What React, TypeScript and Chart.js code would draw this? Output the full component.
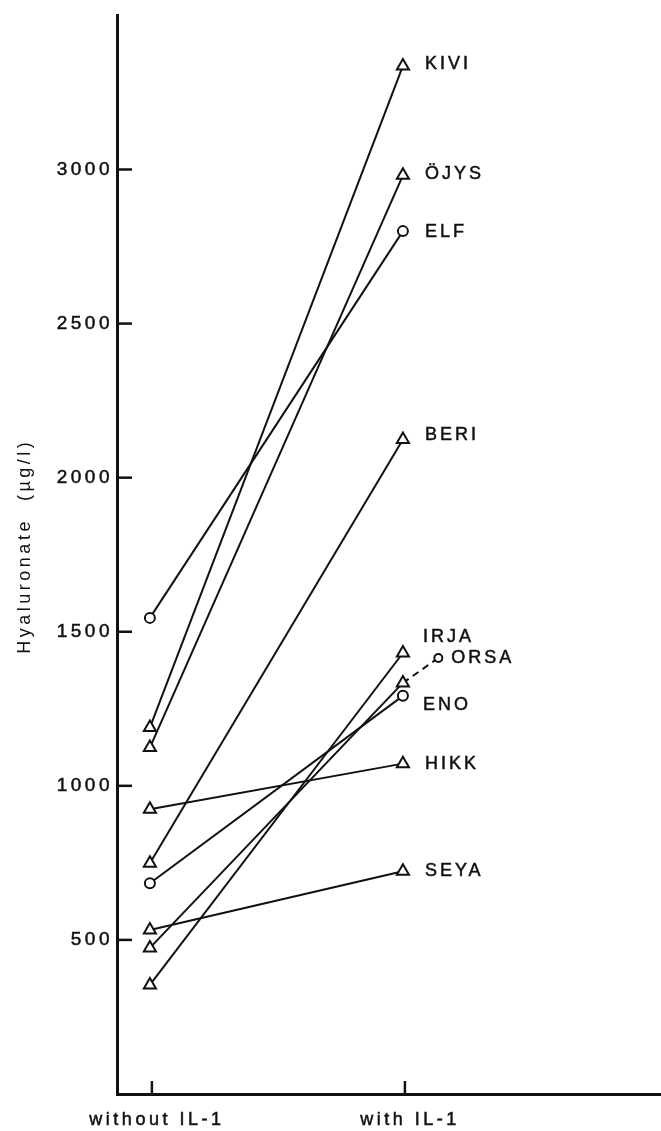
import React, { useEffect, useRef } from "react";
import { Chart, registerables } from "chart.js";

Chart.register(...registerables);

// ---- data ----
const categories = ["without IL-1", "with IL-1"];
const subjects = ["KIVI", "ÖJYS", "ELF", "BERI", "IRJA", "ORSA", "ENO", "HIKK", "SEYA"];
const withoutIL1 = [1189, 1124, 1545, 749, 354, 474, 684, 924, 532];
const withIL1 = [3336, 2981, 2800, 2124, 1431, 1334, 1292, 1072, 723];
const markers = ["triangle", "triangle", "circle", "triangle", "triangle", "triangle", "circle", "triangle", "triangle"];
// ORSA dashed continuation (to the open circle)
const orsaDashX = [2, 2.14];
const orsaDashY = [1334, 1415];
const yTickValues = [500, 1000, 1500, 2000, 2500, 3000];

// ---- styles ----
const FONT = "'Liberation Sans', Arial, sans-serif";
const INK = "#111111";
const labelOffsets: Record<string, [number, number]> = {
  KIVI: [22, -2],
  "ÖJYS": [22, -1],
  ELF: [22, 1],
  BERI: [22, -4],
  IRJA: [20, -16],
  ENO: [20, 9],
  HIKK: [22, 0],
  SEYA: [22, 0],
  ORSA: [13, 0],
};

const spacingPlugin = {
  id: "spacing",
  beforeUpdate(chart: any) {
    chart.ctx.letterSpacing = "3.5px";
  },
  beforeLayout(chart: any) {
    chart.ctx.letterSpacing = "3.5px";
  },
  beforeDraw(chart: any) {
    chart.ctx.letterSpacing = "3.5px";
  },
};

const marksPlugin = {
  id: "marks",
  afterDatasetsDraw(chart: any) {
    const ctx = chart.ctx;
    const xs = chart.scales.x;
    const ys = chart.scales.y;
    const area = chart.chartArea;
    ctx.save();
    ctx.strokeStyle = INK;
    ctx.lineWidth = 2.5;
    // inward y ticks
    yTickValues.forEach((v) => {
      const y = ys.getPixelForValue(v);
      ctx.beginPath();
      ctx.moveTo(area.left, y);
      ctx.lineTo(area.left + 15, y);
      ctx.stroke();
    });
    // inward x ticks
    [1, 2].forEach((v) => {
      const x = xs.getPixelForValue(v) + 2;
      ctx.beginPath();
      ctx.moveTo(x, area.bottom);
      ctx.lineTo(x, area.bottom - 13);
      ctx.stroke();
    });
    // subject labels
    ctx.letterSpacing = "3px";
    ctx.fillStyle = INK;
    ctx.strokeStyle = INK;
    ctx.lineWidth = 0.5;
    ctx.font = `18px ${FONT}`;
    ctx.textAlign = "left";
    ctx.textBaseline = "middle";
    chart.data.datasets.forEach((ds: any, i: number) => {
      if (!ds.tag) return;
      const meta = chart.getDatasetMeta(i);
      const pt = meta.data[meta.data.length - 1];
      const off = labelOffsets[ds.tag] || [22, 0];
      ctx.fillText(ds.tag, pt.x + off[0], pt.y + off[1]);
      ctx.strokeText(ds.tag, pt.x + off[0], pt.y + off[1]);
    });
    ctx.restore();
  },
};

export default function App() {
  const ref = useRef<HTMLCanvasElement>(null);

  useEffect(() => {
    if (!ref.current) return;
    const datasets: any[] = subjects.map((name, i) => ({
      label: name,
      tag: name === "ORSA" ? undefined : name,
      data: [
        { x: 1, y: withoutIL1[i] },
        { x: 2, y: withIL1[i] },
      ],
      borderColor: INK,
      borderWidth: 2,
      pointStyle: markers[i],
      pointRadius: markers[i] === "triangle" ? 7 : 5,
      pointBorderWidth: 2,
      pointBorderColor: INK,
      pointBackgroundColor: "#ffffff",
      fill: false,
      tension: 0,
    }));
    datasets.push({
      label: "ORSA (dashed)",
      tag: "ORSA",
      data: orsaDashX.map((x, k) => ({ x, y: orsaDashY[k] })),
      borderColor: INK,
      borderWidth: 2,
      borderDash: [7, 5],
      pointStyle: "circle",
      pointRadius: [0, 4],
      pointBorderWidth: 2,
      pointBorderColor: INK,
      pointBackgroundColor: "#ffffff",
      fill: false,
    });

    const chart = new Chart(ref.current, {
      type: "line",
      data: { datasets },
      plugins: [spacingPlugin, marksPlugin],
      options: {
        animation: false,
        responsive: false,
        devicePixelRatio: 1,
        layout: { autoPadding: false, padding: { top: 7, right: 0, left: 0, bottom: 0 } },
        plugins: {
          legend: { display: false },
          tooltip: { enabled: false },
        },
        scales: {
          x: {
            type: "linear",
            min: 0.87,
            max: 3.02,
            grid: { display: false, drawTicks: false },
            border: { display: true, width: 3, color: INK },
            afterBuildTicks: (scale: any) => {
              scale.ticks = [{ value: 1 }, { value: 2 }];
            },
            afterFit: (scale: any) => {
              scale.height = 37;
            },
            ticks: {
              color: INK,
              font: { family: FONT, size: 18 },
              padding: 15,
              labelOffset: 7,
              maxRotation: 0,
              autoSkip: false,
              textStrokeColor: INK,
              textStrokeWidth: 0.5,
              callback: (v: any) => categories[Math.round(v) - 1] ?? null,
            },
          },
          y: {
            type: "linear",
            min: 0,
            max: 3500,
            grid: { display: false, drawTicks: false },
            border: { display: true, width: 3, color: INK },
            afterFit: (scale: any) => {
              scale.width = 117;
            },
            ticks: {
              stepSize: 500,
              color: INK,
              font: { family: FONT, size: 19 },
              padding: 4,
              textStrokeColor: INK,
              textStrokeWidth: 0.5,
              callback: (v: any) => (yTickValues.includes(v) ? String(v) : null),
            },
            title: {
              display: true,
              text: "  Hyaluronate  (µg/l)",
              color: INK,
              font: { family: FONT, size: 18 },
              padding: { top: 14, bottom: 0 },
            },
          },
        },
      } as any,
    });
    return () => chart.destroy();
  }, []);

  return (
    <canvas
      ref={ref}
      width={661}
      height={1131}
      style={{ position: "absolute", left: 0, top: 0, width: 661, height: 1131, background: "#fff" }}
    />
  );
}
